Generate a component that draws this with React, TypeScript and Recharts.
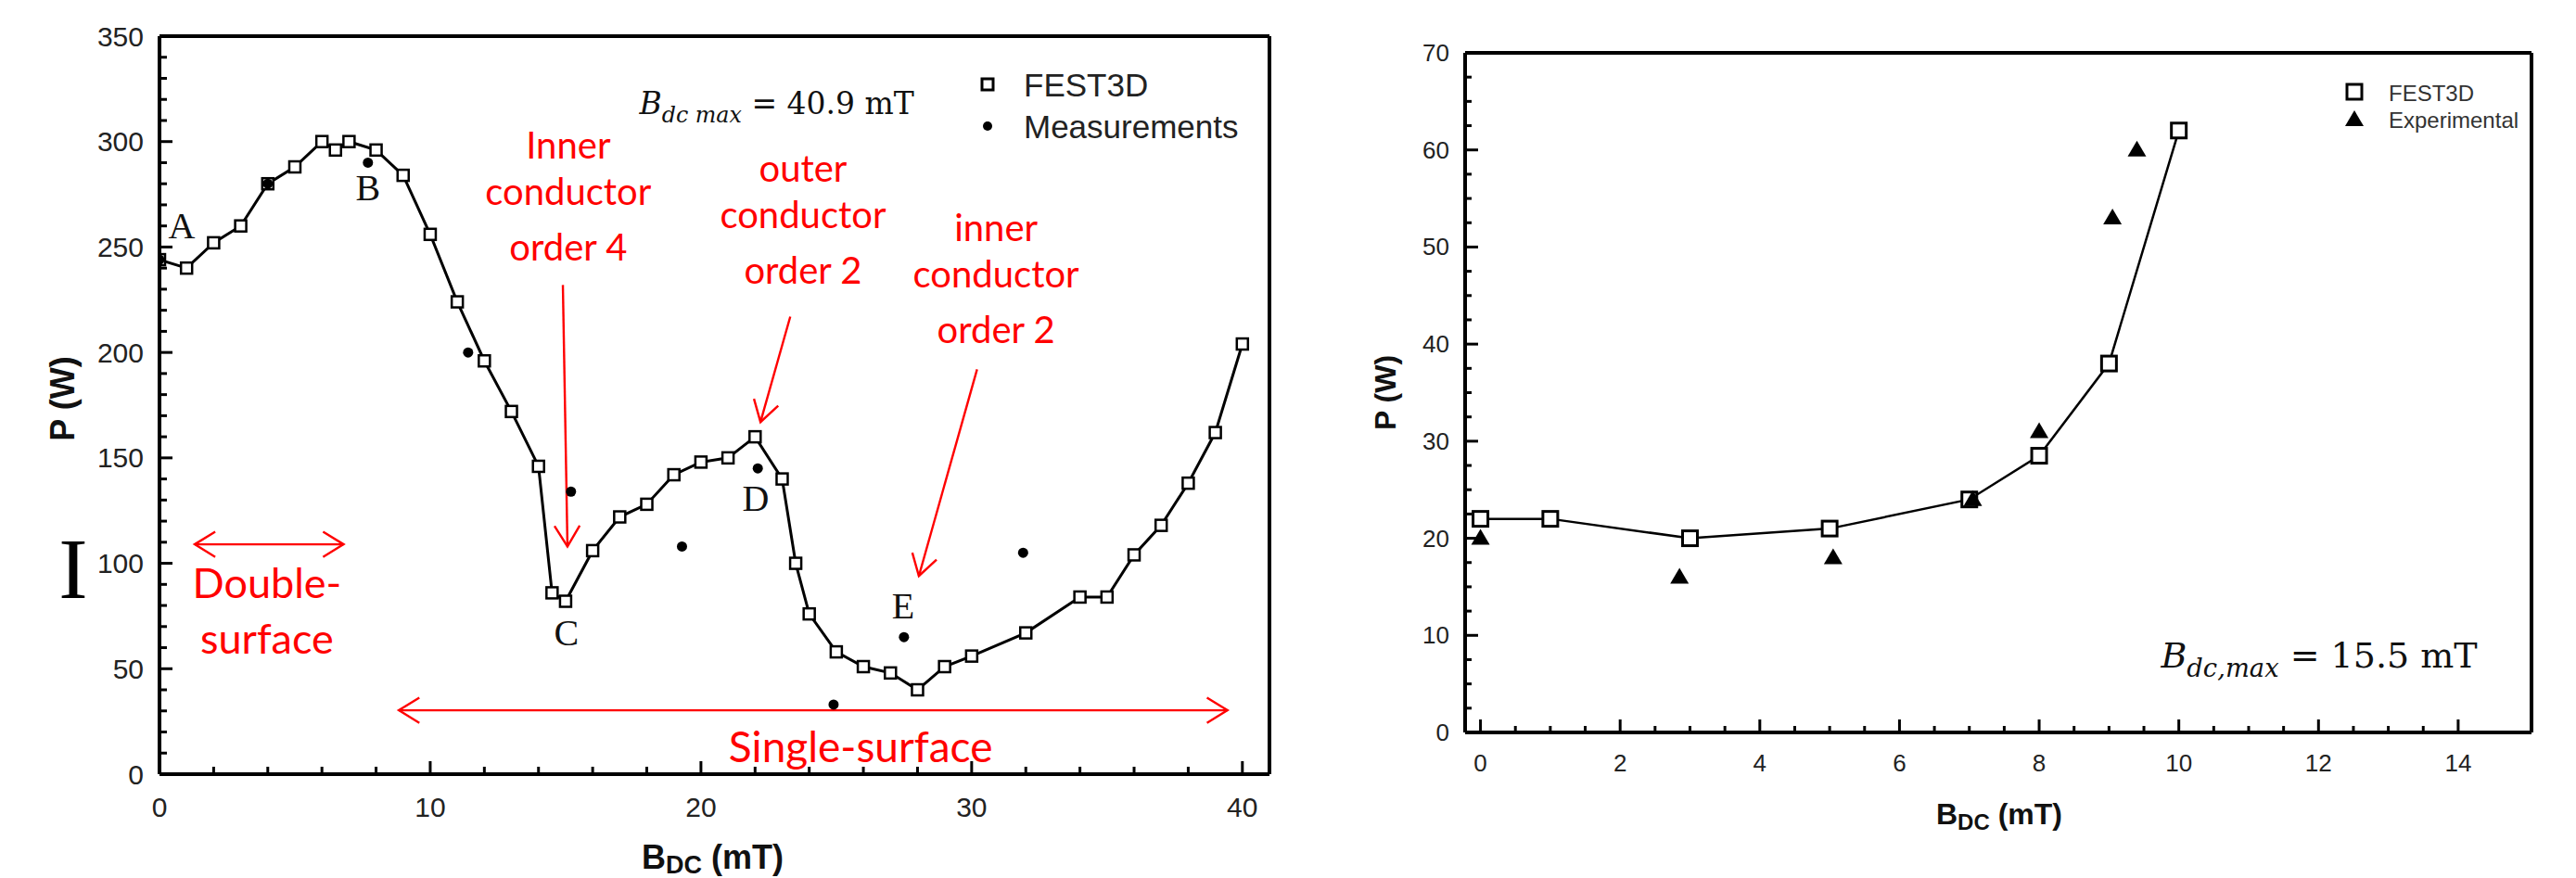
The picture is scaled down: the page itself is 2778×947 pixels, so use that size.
import React from "react";
import {
  ScatterChart,
  Scatter,
  XAxis,
  YAxis,
  ReferenceLine,
  ReferenceDot,
  Legend,
  Label,
} from "recharts";

// left panel: FEST3D simulation vs measurements, B_dc max = 40.9 mT
const festBdc = [0, 1, 2, 3, 4, 5, 6, 6.5, 7, 8, 9, 10, 11, 12, 13, 14, 14.5, 15, 16, 17, 18, 19, 20, 21, 22, 23, 23.5, 24, 25, 26, 27, 28, 29, 30, 32, 34, 35, 36, 37, 38, 39, 40];
const festP = [244, 240, 252, 260, 280, 288, 300, 296, 300, 296, 284, 256, 224, 196, 172, 146, 86, 82, 106, 122, 128, 142, 148, 150, 160, 140, 100, 76, 58, 51, 48, 40, 51, 56, 67, 84, 84, 104, 118, 138, 162, 204];
const measBdc = [0, 4, 7.7, 11.4, 15.2, 19.3, 22.1, 24.9, 27.5, 31.9];
const measP = [244, 280, 290, 200, 134, 108, 145, 33, 65, 105];

// right panel: FEST3D vs experimental, B_dc,max = 15.5 mT
const fest2Bdc = [0, 1, 3, 5, 7, 8, 9, 10];
const fest2P = [22, 22, 20, 21, 24, 28.5, 38, 62];
const expBdc = [0, 2.85, 5.05, 7.05, 8, 9.05, 9.4];
const expP = [20, 16, 18, 24, 31, 53, 60];

// major tick labels
const leftXMajor = [0, 10, 20, 30, 40];
const leftYMajor = [0, 50, 100, 150, 200, 250, 300, 350];
const rightXMajor = [0, 2, 4, 6, 8, 10, 12, 14];
const rightYMajor = [0, 10, 20, 30, 40, 50, 60, 70];

// annotations (data units of the left panel)
const letters = [
  { t: "A", x: 0.82, y: 254 },
  { t: "B", x: 7.7, y: 272 },
  { t: "C", x: 15.03, y: 61 },
  { t: "D", x: 22.02, y: 125 },
  { t: "E", x: 27.47, y: 74 },
];
const notes = [
  { lines: ["Inner", "conductor", "order 4"], x: 15.1, y: 292 },
  { lines: ["outer", "conductor", "order 2"], x: 23.77, y: 281 },
  { lines: ["inner", "conductor", "order 2"], x: 30.9, y: 253 },
];
const arrows = [
  { x1: 14.9, y1: 232, x2: 15.07, y2: 108, both: false },
  { x1: 23.3, y1: 217, x2: 22.2, y2: 167, both: false },
  { x1: 30.2, y1: 192, x2: 28.05, y2: 94, both: false },
  { x1: 1.3, y1: 109, x2: 6.8, y2: 109, both: true },
  { x1: 8.84, y1: 30.3, x2: 39.45, y2: 30.3, both: true },
];

const SANS = "'Liberation Sans', Arial, sans-serif";
const SERIF = "'Liberation Serif', 'Times New Roman', serif";
const MATH = "'DejaVu Serif', serif";
const HAND = "Lato, 'Open Sans', sans-serif";
const RED = "#ff0000";

const toPts = (xs: number[], ys: number[]) => xs.map((x, i) => ({ x, y: ys[i] }));

// majors plus evenly spaced minor ticks in between
function withMinor(majors: number[], sub: number) {
  const out: number[] = [];
  for (let i = 0; i < majors.length - 1; i++) {
    const step = (majors[i + 1] - majors[i]) / sub;
    for (let k = 0; k < sub; k++) out.push(+(majors[i] + k * step).toFixed(4));
  }
  out.push(majors[majors.length - 1]);
  return out;
}

type TickOpts = { majors: number[]; side: "x" | "y"; font: number; gap: number; major: number; minor: number };

function makeTick(o: TickOpts) {
  return (p: any) => {
    const v = p.payload.value;
    const isMajor = o.majors.some((m) => Math.abs(m - v) < 1e-6);
    const len = isMajor ? o.major : o.minor;
    if (o.side === "x") {
      return (
        <g>
          <line x1={p.x} x2={p.x} y1={p.y} y2={p.y - len} stroke="#000" strokeWidth={3} />
          {isMajor && (
            <text x={p.x} y={p.y + o.gap} textAnchor="middle" dominantBaseline="central" fontSize={o.font} fontFamily={SANS} fill="#222">
              {v}
            </text>
          )}
        </g>
      );
    }
    return (
      <g>
        <line x1={p.x} x2={p.x + len} y1={p.y} y2={p.y} stroke="#000" strokeWidth={3} />
        {isMajor && (
          <text x={p.x - o.gap} y={p.y} textAnchor="end" dominantBaseline="central" fontSize={o.font} fontFamily={SANS} fill="#222">
            {v}
          </text>
        )}
      </g>
    );
  };
}

const square = (size: number, sw: number) => (p: any) => (
  <rect x={p.cx - size / 2} y={p.cy - size / 2} width={size} height={size} fill="#fff" stroke="#000" strokeWidth={sw} />
);
const dot = (p: any) => <circle cx={p.cx} cy={p.cy} r={5.5} fill="#000" />;
const triangle = (p: any) => (
  <path d={`M${p.cx},${p.cy - 10} L${p.cx + 10},${p.cy + 7} L${p.cx - 10},${p.cy + 7} Z`} fill="#000" />
);

function arrowShape(both: boolean) {
  const head = (tx: number, ty: number, fx: number, fy: number) => {
    const a = Math.atan2(ty - fy, tx - fx);
    const L = 26;
    const w = 0.55;
    return `M${tx - L * Math.cos(a - w)},${ty - L * Math.sin(a - w)} L${tx},${ty} L${tx - L * Math.cos(a + w)},${ty - L * Math.sin(a + w)}`;
  };
  return (p: any) => (
    <g>
      <line x1={p.x1} y1={p.y1} x2={p.x2} y2={p.y2} stroke={RED} strokeWidth={2.4} />
      <path d={head(p.x2, p.y2, p.x1, p.y1)} fill="none" stroke={RED} strokeWidth={2.4} />
      {both && <path d={head(p.x1, p.y1, p.x2, p.y2)} fill="none" stroke={RED} strokeWidth={2.4} />}
    </g>
  );
}

const xTitle = (dx: number, dy: number, fs: number) => (props: any) => {
  const vb = props.viewBox;
  return (
    <text x={vb.x + vb.width / 2 + dx} y={vb.y + dy} textAnchor="middle" dominantBaseline="central" fontFamily={SANS} fontWeight="bold" fontSize={fs} fill="#111">
      B<tspan fontSize={fs * 0.75} dy={fs * 0.25}>DC</tspan>
      <tspan dy={-fs * 0.25}> (mT)</tspan>
    </text>
  );
};

const yTitle = (back: number, dy: number, fs: number) => (props: any) => {
  const vb = props.viewBox;
  const cx = vb.x + vb.width - back;
  const cy = vb.y + vb.height / 2 + dy;
  return (
    <text x={cx} y={cy} transform={`rotate(-90, ${cx}, ${cy})`} textAnchor="middle" dominantBaseline="central" fontFamily={SANS} fontWeight="bold" fontSize={fs} fill="#111">
      P (W)
    </text>
  );
};

const equation = (sub: string, rest: string, fs: number) => (p: any) => (
  <text x={p.cx} y={p.cy} textAnchor="middle" fontFamily={MATH} fontSize={fs} fill="#111">
    <tspan fontStyle="italic">B</tspan>
    <tspan fontStyle="italic" fontSize={fs * 0.72} dy={fs * 0.28}>{sub}</tspan>
    <tspan dy={-fs * 0.28}>{rest}</tspan>
  </text>
);

const LeftLegend = () => (
  <svg width={320} height={100}>
    <rect x={19} y={25} width={12} height={12} fill="#fff" stroke="#000" strokeWidth={3} />
    <text x={64} y={31} dominantBaseline="central" fontFamily={SANS} fontSize={35} fill="#222">FEST3D</text>
    <circle cx={25} cy={76} r={5} fill="#000" />
    <text x={64} y={76} dominantBaseline="central" fontFamily={SANS} fontSize={35} fill="#222">Measurements</text>
  </svg>
);

const RightLegend = () => (
  <svg width={220} height={70}>
    <rect x={11} y={11} width={16} height={16} fill="#fff" stroke="#000" strokeWidth={3} />
    <text x={56} y={20} dominantBaseline="central" fontFamily={SANS} fontSize={24} fill="#333">FEST3D</text>
    <path d="M19,39 L29,56 L9,56 Z" fill="#000" />
    <text x={56} y={49} dominantBaseline="central" fontFamily={SANS} fontSize={24} fill="#333">Experimental</text>
  </svg>
);

const frame = { stroke: "#000", strokeWidth: 4 };

function LeftPanel() {
  return (
    <ScatterChart width={1400} height={947} margin={{ top: 39, right: 31, bottom: 52, left: 72 }}>
      <XAxis
        type="number"
        dataKey="x"
        domain={[0, 41]}
        allowDataOverflow
        ticks={withMinor(leftXMajor, 5)}
        interval={0}
        tickSize={0}
        tickMargin={0}
        tickLine={false}
        axisLine={frame}
        height={60}
        tick={makeTick({ majors: leftXMajor, side: "x", font: 30, gap: 35, major: 14, minor: 8 })}
      >
        <Label content={xTitle(-2, 89, 36)} />
      </XAxis>
      <YAxis
        type="number"
        dataKey="y"
        domain={[0, 350]}
        allowDataOverflow
        ticks={withMinor(leftYMajor, 5)}
        interval={0}
        tickSize={0}
        tickMargin={0}
        tickLine={false}
        axisLine={frame}
        width={100}
        tick={makeTick({ majors: leftYMajor, side: "y", font: 30, gap: 17, major: 14, minor: 8 })}
      >
        <Label content={yTitle(105, -7, 36)} />
      </YAxis>
      <ReferenceLine y={350} {...frame} />
      <ReferenceLine x={41} {...frame} />
      {arrows.map((a, i) => (
        <ReferenceLine
          key={`arr${i}`}
          segment={[{ x: a.x1, y: a.y1 }, { x: a.x2, y: a.y2 }]}
          shape={arrowShape(a.both)}
        />
      ))}
      <Scatter
        name="FEST3D"
        data={toPts(festBdc, festP)}
        fill="#000"
        line={{ stroke: "#000", strokeWidth: 3 }}
        lineType="joint"
        shape={square(12, 2.5)}
        isAnimationActive={false}
      />
      <Scatter name="Measurements" data={toPts(measBdc, measP)} fill="#000" shape={dot} isAnimationActive={false} />
      {letters.map((l) => (
        <ReferenceDot
          key={l.t}
          x={l.x}
          y={l.y}
          r={0}
          shape={(p: any) => (
            <text x={p.cx} y={p.cy} textAnchor="middle" fontFamily={SERIF} fontSize={40} fill="#111">
              {l.t}
            </text>
          )}
        />
      ))}
      {notes.map((n, i) => (
        <ReferenceDot
          key={`note${i}`}
          x={n.x}
          y={n.y}
          r={0}
          shape={(p: any) => (
            <text textAnchor="middle" fontFamily={HAND} fontSize={40} fill={RED}>
              {n.lines.map((s, k) => (
                <tspan key={k} x={p.cx} y={p.cy + [0, 50, 110][k]}>
                  {s}
                </tspan>
              ))}
            </text>
          )}
        />
      ))}
      <ReferenceDot
        x={3.97}
        y={83.6}
        r={0}
        shape={(p: any) => (
          <text textAnchor="middle" fontFamily={HAND} fontSize={45} fill={RED}>
            <tspan x={p.cx} y={p.cy}>Double-</tspan>
            <tspan x={p.cx} y={p.cy + 60}>surface</tspan>
          </text>
        )}
      />
      <ReferenceDot
        x={25.9}
        y={5.7}
        r={0}
        shape={(p: any) => (
          <text x={p.cx} y={p.cy} textAnchor="middle" fontFamily={HAND} fontSize={46} fill={RED}>
            Single-surface
          </text>
        )}
      />
      <ReferenceDot x={22.8} y={313} r={0} shape={equation("dc max", " = 40.9 mT", 33)} />
      <Legend
        layout="vertical"
        align="center"
        verticalAlign="middle"
        wrapperStyle={{ top: 60, left: 1040, width: 320, height: 100 }}
        content={() => <LeftLegend />}
      />
    </ScatterChart>
  );
}

function RightPanel() {
  return (
    <ScatterChart width={1378} height={947} margin={{ top: 57, right: 48, bottom: 97, left: 80 }}>
      <XAxis
        type="number"
        dataKey="x"
        domain={[-0.22, 15.05]}
        allowDataOverflow
        ticks={withMinor(rightXMajor, 4)}
        interval={0}
        tickSize={0}
        tickMargin={0}
        tickLine={false}
        axisLine={frame}
        height={60}
        tick={makeTick({ majors: rightXMajor, side: "x", font: 26, gap: 33, major: 14, minor: 7 })}
      >
        <Label content={xTitle(1, 88, 32)} />
      </XAxis>
      <YAxis
        type="number"
        dataKey="y"
        domain={[0, 70]}
        allowDataOverflow
        ticks={withMinor(rightYMajor, 4)}
        interval={0}
        tickSize={0}
        tickMargin={0}
        tickLine={false}
        axisLine={frame}
        width={100}
        tick={makeTick({ majors: rightYMajor, side: "y", font: 26, gap: 17, major: 14, minor: 7 })}
      >
        <Label content={yTitle(86, 0, 32)} />
      </YAxis>
      <ReferenceLine y={70} {...frame} />
      <ReferenceLine x={15.05} {...frame} />
      <Scatter
        name="FEST3D"
        data={toPts(fest2Bdc, fest2P)}
        fill="#000"
        line={{ stroke: "#000", strokeWidth: 2.5 }}
        lineType="joint"
        shape={square(16, 3)}
        isAnimationActive={false}
      />
      <Scatter name="Experimental" data={toPts(expBdc, expP)} fill="#000" shape={triangle} isAnimationActive={false} />
      <ReferenceDot x={12.01} y={6.7} r={0} shape={equation("dc,max", " = 15.5 mT", 38)} />
      <Legend
        layout="vertical"
        align="center"
        verticalAlign="middle"
        wrapperStyle={{ top: 80, left: 1120, width: 220, height: 70 }}
        content={() => <RightLegend />}
      />
    </ScatterChart>
  );
}

export default function App() {
  return (
    <div style={{ position: "absolute", left: 0, top: 0, width: 2778, height: 947, background: "#fff", overflow: "hidden" }}>
      <div style={{ position: "absolute", left: 0, top: 0 }}>
        <LeftPanel />
      </div>
      <div style={{ position: "absolute", left: 1400, top: 0 }}>
        <RightPanel />
      </div>
      <svg width={160} height={947} style={{ position: "absolute", left: 0, top: 0, pointerEvents: "none" }}>
        <text x={79} y={645} textAnchor="middle" fontFamily={SERIF} fontSize={94} fill="#000">
          I
        </text>
      </svg>
    </div>
  );
}
